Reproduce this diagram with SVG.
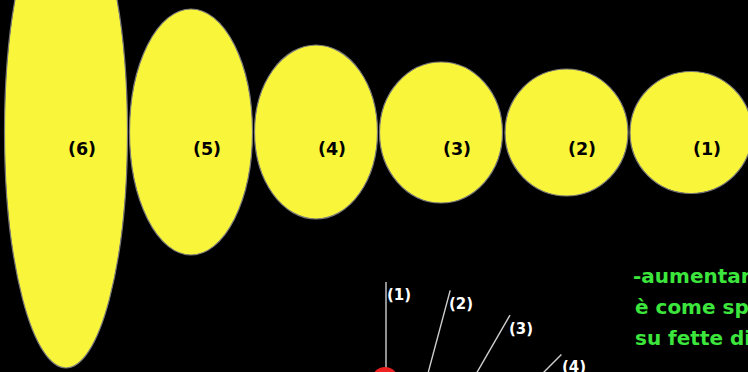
<svg xmlns="http://www.w3.org/2000/svg" width="748" height="372" viewBox="0 0 748 372">
<style>
.ell{fill:#f9f53a;stroke:#7a7a7a;stroke-width:1.2}
.lab{font-family:"DejaVu Sans",Verdana,sans-serif;font-weight:bold;font-size:17.5px;fill:#000;text-anchor:middle}
.ray{stroke:#cfcfcf;stroke-width:1.4}
.rl{font-family:"DejaVu Sans",Verdana,sans-serif;font-weight:bold;font-size:15px;fill:#fff}
.gt{font-family:"DejaVu Sans",Verdana,sans-serif;font-weight:bold;font-size:20px;fill:#3ce63c}
</style>
<rect x="0" y="0" width="748" height="372" fill="#000"/>
<g id="slice6"><ellipse class="ell" cx="66" cy="132" rx="61.5" ry="236"/><text class="lab" x="82" y="155">(6)</text></g>
<g id="slice5"><ellipse class="ell" cx="191" cy="132" rx="61.5" ry="123"/><text class="lab" x="207" y="155">(5)</text></g>
<g id="slice4"><ellipse class="ell" cx="316" cy="132" rx="61.5" ry="87"/><text class="lab" x="332" y="155">(4)</text></g>
<g id="slice3"><ellipse class="ell" cx="441" cy="132.5" rx="61.5" ry="70.5"/><text class="lab" x="457" y="155">(3)</text></g>
<g id="slice2"><ellipse class="ell" cx="566.5" cy="132.5" rx="61.5" ry="63.5"/><text class="lab" x="582" y="155">(2)</text></g>
<g id="slice1"><ellipse class="ell" cx="691" cy="132.5" rx="61" ry="61"/><text class="lab" x="707" y="155">(1)</text></g>
<g id="connectors">
<line class="ray" x1="386" y1="530" x2="386" y2="282"/>
<line class="ray" x1="386" y1="530" x2="450.2" y2="290.4"/>
<line class="ray" x1="386" y1="530" x2="510" y2="315.2"/>
<line class="ray" x1="386" y1="530" x2="561.4" y2="354.6"/>
</g>
<g id="sphere"><circle cx="385" cy="380.5" r="13.5" fill="#ee2020"/></g>
<g id="ray-labels">
<text class="rl" x="387" y="300">(1)</text>
<text class="rl" x="449" y="309">(2)</text>
<text class="rl" x="509" y="334">(3)</text>
<text class="rl" x="562" y="372">(4)</text>
</g>
<g id="note">
<text class="gt" x="633" y="283">-aumentar</text>
<text class="gt" x="635" y="314">è come sp</text>
<text class="gt" x="635" y="345">su fette di</text>
</g>
</svg>
